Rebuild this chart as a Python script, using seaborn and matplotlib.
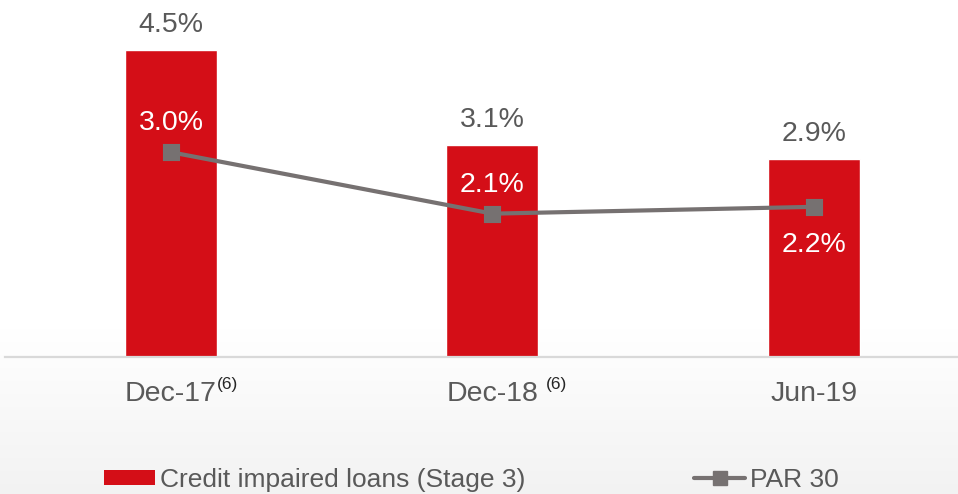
import numpy as np
import pandas as pd
import matplotlib
matplotlib.use("Agg")
import matplotlib.pyplot as plt
from matplotlib.patches import Patch
from matplotlib.lines import Line2D
import seaborn as sns

# Asset-quality ratios by reporting period
periods = ["Dec-17", "Dec-18", "Jun-19"]
footnotes = ["(6)", "(6)", ""]
stage3 = [4.5, 3.1, 2.9]          # credit impaired loans (Stage 3), %
par30 = [3.0, 2.1, 2.2]           # PAR 30, %
par30_label_side = [1, 1, -1]     # label above (+1) or below (-1) the point

series_names = ["Credit impaired loans (Stage 3)", "PAR 30"]

RED = "#D40E17"
GREY_LINE = "#767171"
TEXT = "#595959"

sns.set_theme(style="white")
plt.rcParams["font.family"] = ["Liberation Sans", "DejaVu Sans"]

W, H = 958, 494
fig = plt.figure(figsize=(W / 100, H / 100), dpi=100)

# soft grey fade towards the bottom of the slide
bg = fig.add_axes([0, 0, 1, 1], zorder=-10)
rows = np.linspace(0, 1, H)
start = 330 / H
shade = np.clip((rows - start) / (1 - start), 0, 1)
val = 1.0 - 0.05 * shade
img = np.repeat(val[:, None], 4, axis=1)
bg.imshow(np.dstack([img, img, img]), aspect="auto", extent=[0, 1, 1, 0])
bg.set_axis_off()

base_px = 357
ax = fig.add_axes([5 / W, (H - base_px) / H, (W - 5) / W, base_px / H])
ax.patch.set_alpha(0)

df = pd.DataFrame({"period": periods, "stage3": stage3, "par30": par30})

sns.barplot(data=df, x="period", y="stage3", color=RED, saturation=1,
            width=0.286, ax=ax, zorder=2)
sns.pointplot(data=df, x="period", y="par30", color=GREY_LINE, markers="s",
              markersize=9.5, linewidth=3, ax=ax, zorder=3)

ax.set_xlim(-0.516, 2.448)
ax.set_ylim(0, 5.23)
ax.set_xlabel("")
ax.set_ylabel("")
ax.set_yticks([])
sns.despine(ax=ax, left=True)
ax.spines["bottom"].set_color("#d9d9d9")
ax.spines["bottom"].set_linewidth(1.6)
ax.tick_params(axis="x", length=0, pad=17, labelsize=20.5, labelcolor=TEXT)

# value labels
for i, v in enumerate(stage3):
    ax.annotate(f"{v:.1f}%", (i, v), xytext=(0, 25), textcoords="offset pixels",
                ha="center", va="center", fontsize=20.5, color=TEXT, zorder=5)
for i, (v, side) in enumerate(zip(par30, par30_label_side)):
    off = 29 if side > 0 else -38
    ax.annotate(f"{v:.1f}%", (i, v), xytext=(0, off), textcoords="offset pixels",
                ha="center", va="center", fontsize=20.5, color="white", zorder=5)

# footnote markers next to the period labels
fig.canvas.draw()
renderer = fig.canvas.get_renderer()
for lbl, note, gap in zip(ax.get_xticklabels(), footnotes, [0, 8, 0]):
    if not note:
        continue
    bb = lbl.get_window_extent(renderer)
    fig.text((bb.x1 + gap) / W, bb.y1 / H + 4 / H, note, ha="left", va="top",
             fontsize=12.5, color="#262626")

handles = [
    Patch(facecolor=RED, edgecolor="none"),
    Line2D([], [], color=GREY_LINE, lw=3, marker="s", markersize=10),
]
fig.legend(handles, series_names, loc="center left",
           bbox_to_anchor=(104 / W, (H - 480) / H), ncol=2, frameon=False,
           fontsize=19, labelcolor=TEXT, borderpad=0, borderaxespad=0,
           handlelength=1.93, handleheight=0.53, handletextpad=0.19,
           columnspacing=6.4)

fig.savefig("out.png", dpi=100)
